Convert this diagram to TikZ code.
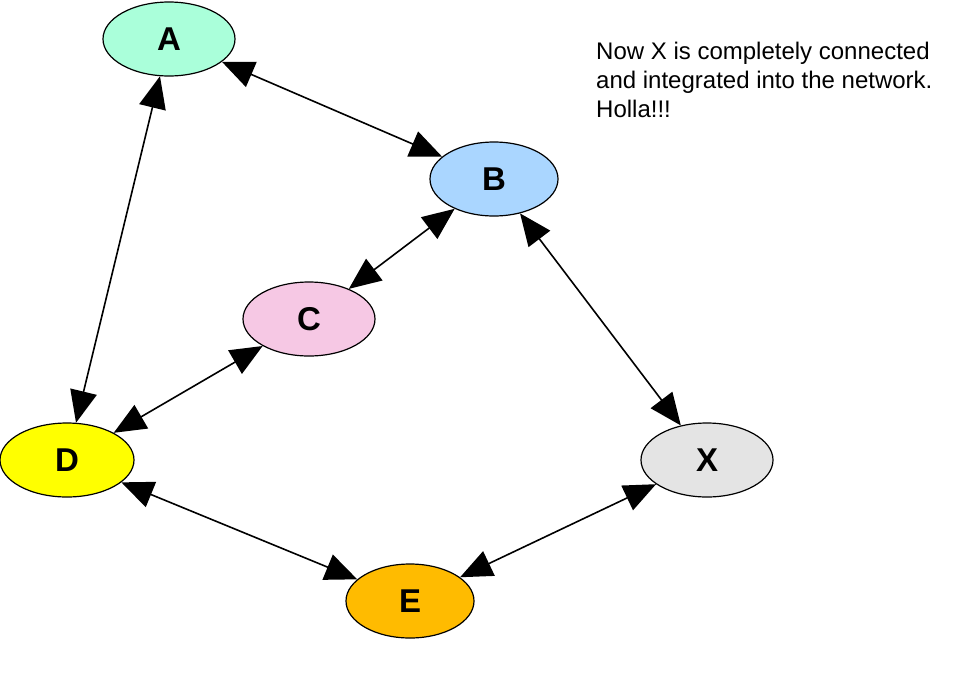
\documentclass[tikz,border=0pt]{standalone}
\usepackage{fontspec}
\setmainfont{Liberation Sans}
\usetikzlibrary{shapes.geometric, arrows.meta}
\definecolor{MintA}{RGB}{170, 255, 218}
\definecolor{BlueB}{RGB}{170, 214, 255}
\definecolor{PinkC}{RGB}{246, 200, 228}
\definecolor{YellowD}{RGB}{255, 255, 0}
\definecolor{OrangeE}{RGB}{255, 187, 0}
\definecolor{GrayX}{RGB}{228, 228, 228}

\tikzset{
    peer/.style = {ellipse, draw, line width = 1.2pt, minimum width = 132pt,
        minimum height = 74pt, inner sep = 0pt,
        font = \fontsize{33}{33}\selectfont\bfseries},
    link/.style = {line width = 1.6pt,
        {Triangle[length = 32pt, width = 27pt]}-{Triangle[length = 32pt, width = 27pt]}}
}

\begin{document}
\begin{tikzpicture}[x = 1pt, y = -1pt]
            \useasboundingbox (0, 0) rectangle (963, 675);
            %节点
            \node[peer, fill = MintA] (A) at (169, 39) {A};
            \node[peer, fill = BlueB, minimum width = 128pt] (B) at (494, 179) {B};
            \node[peer, fill = PinkC] (C) at (309, 319) {C};
            \node[peer, fill = YellowD, minimum width = 134pt] (D) at (67, 460) {D};
            \node[peer, fill = GrayX] (X) at (707, 460) {X};
            \node[peer, fill = OrangeE, minimum width = 128pt] (E) at (410, 601) {E};
            %连线
            \draw[link] (A) -- (B);
            \draw[link] (A) -- (D);
            \draw[link] (C) -- (B);
            \draw[link] (C) -- (D);
            \draw[link] (B) -- (X);
            \draw[link] (D) -- (E);
            \draw[link] (E) -- (X);
            %说明文字
            \node[anchor = north west, align = left, inner sep = 0pt,
                font = \fontsize{24}{29}\selectfont] (note) at (596, 42)
                {Now X is completely connected\\and integrated into the network.\\Holla!!!};
        \end{tikzpicture}
\end{document}
